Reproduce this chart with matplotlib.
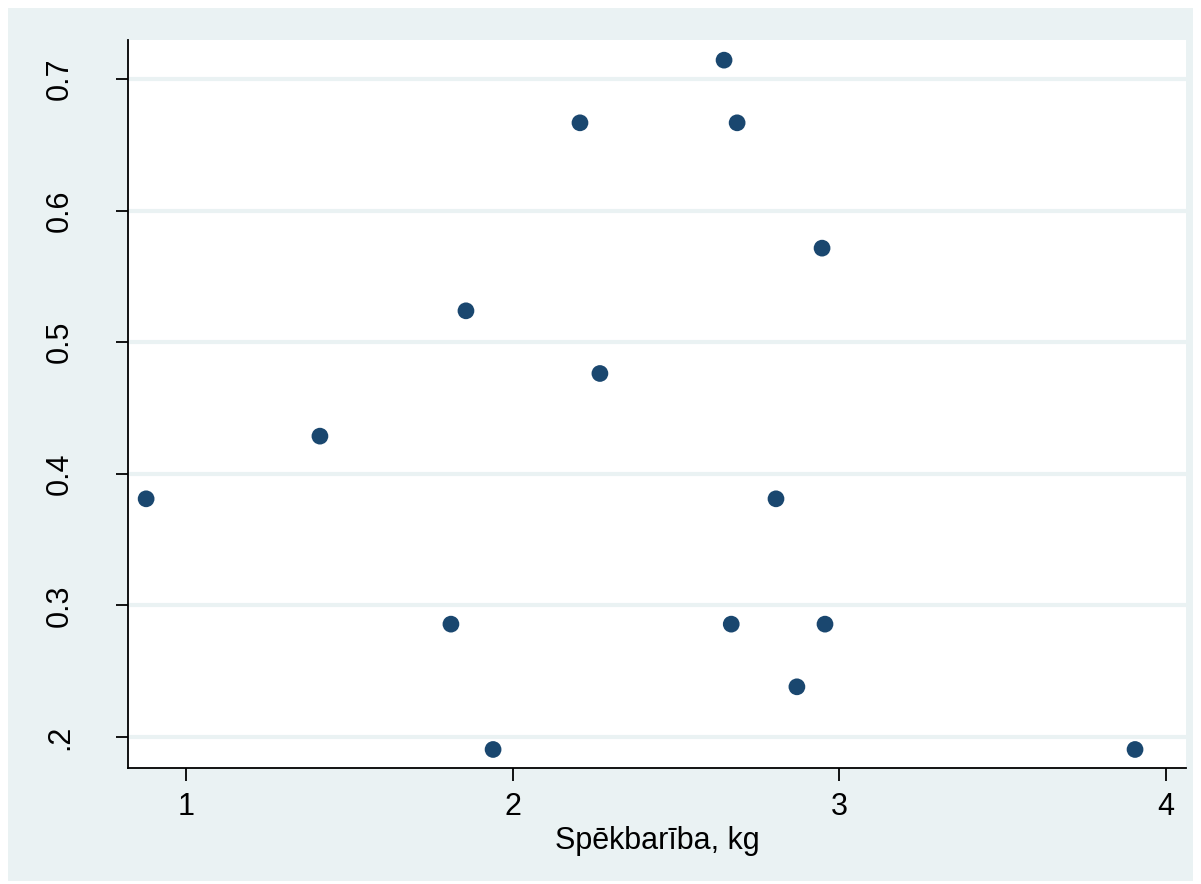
import numpy as np
import matplotlib as mpl
import matplotlib.pyplot as plt
from matplotlib.patches import Rectangle

mpl.use('agg')

plt.rcParams['font.family'] = ['Liberation Sans', 'DejaVu Sans']

# data
spekbariba = [0.878, 1.410, 1.811, 1.857, 1.940, 2.206, 2.267, 2.647,
              2.687, 2.669, 2.806, 2.870, 2.947, 2.956, 3.905]
share = [8/21, 9/21, 6/21, 11/21, 4/21, 14/21, 10/21, 15/21,
         14/21, 6/21, 8/21, 5/21, 12/21, 6/21, 4/21]

xticks = [1, 2, 3, 4]
yticks = [0.2, 0.3, 0.4, 0.5, 0.6, 0.7]
yticklabels = ['.2', '0.3', '0.4', '0.5', '0.6', '0.7']

bg = '#EAF2F3'
navy = '#1A476F'

fig = plt.figure(figsize=(12.01, 8.84), dpi=100, facecolor='white')
fig.patches.append(Rectangle((8/1201, 3/884), 1185/1201, 873/884,
                             transform=fig.transFigure, facecolor=bg,
                             edgecolor='none', zorder=-10))

ax = fig.add_axes([128/1201, 116/884, 1058/1201, 728/884])
ax.set_zorder(1)
ax.set_facecolor('white')

ax.scatter(spekbariba, share, s=145, color=navy, edgecolors='none', zorder=3)

ax.set_xlim(0.8225, 4.061)
ax.set_ylim(0.1764, 0.7296)

ax.set_xticks(xticks)
ax.set_xticklabels([str(t) for t in xticks])
ax.set_yticks(yticks)
ax.set_yticklabels(yticklabels, rotation=90, va='center')

ax.grid(axis='y', color=bg, linewidth=3)
ax.set_axisbelow(True)

for s in ['top', 'right']:
    ax.spines[s].set_visible(False)
for s in ['left', 'bottom']:
    ax.spines[s].set_linewidth(1.3)
    ax.spines[s].set_color('black')

ax.tick_params(axis='both', direction='out', length=9, width=1.3,
               labelsize=22, colors='black')
ax.tick_params(axis='x', pad=8)
ax.tick_params(axis='y', pad=29)

ax.set_xlabel('Spēkbarība, kg', fontsize=22, labelpad=3)

plt.savefig('out.png', dpi=100, facecolor='white')
